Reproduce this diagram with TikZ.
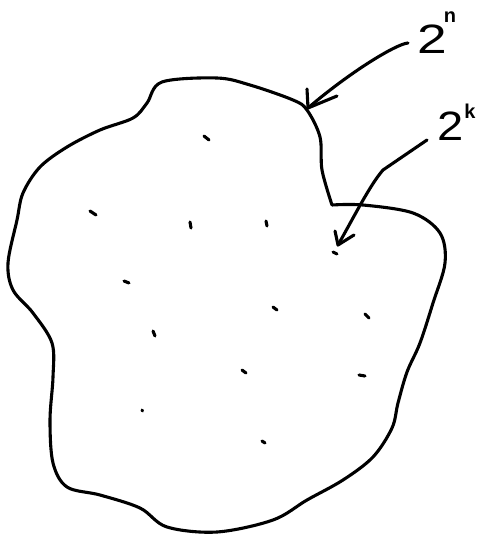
\documentclass[tikz,border=0pt]{standalone}
\usepackage{fontspec}
\setmainfont{Liberation Sans}
\begin{document}
\begin{tikzpicture}[x=1pt,y=-1pt,
  ink/.style={line width=3.1pt,line cap=round,line join=round},
  speck/.style={line width=3.1pt,line cap=round},
  lbl/.style={inner sep=0pt,anchor=base west}]
\useasboundingbox (0,0) rectangle (480,535);
% blob outline
\draw[ink] plot[smooth,tension=0.55] coordinates {
 (332,205) (363,205) (413,213) (440,233) (445,263) (433,303) (420,343)
 (407,372) (398,403) (392,428) (373,457) (343,480) (307,500) (273,520)
 (217,532) (167,527) (140,508) (100,495) (67,487) (53,463) (50,420)
 (53,377) (52,343) (33,313) (13,290) (8,263) (17,220) (23,193) (40,167)
 (67,147) (100,130) (133,118) (147,103) (162,82) (217,78) (250,85)
 (293,100) (307,110) (320,137) (322,170) (332,205)};
% specks
\draw[speck] (204,136) -- (209,140);
\draw[speck] (90,211) -- (96,215);
\draw[speck] (190,222) -- (191,228);
\draw[speck] (266,221) -- (267,226);
\draw[speck] (333,252) -- (337,254);
\draw[speck] (124,281) -- (129,283);
\draw[speck] (273,307) -- (277,310);
\draw[speck] (365,314) -- (369,318);
\draw[speck] (153,331) -- (155,336);
\draw[speck] (242,370) -- (246,373);
\draw[speck] (359,375) -- (365,376);
\draw[speck] (142,410) -- (142.5,411);
\draw[speck] (262,441) -- (265,443);
% labels
\node[lbl] (ln) at (417,53) {\fontsize{41}{41}\selectfont\scalebox{1.3}[1]{2}\kern-3pt\raisebox{31pt}{\fontsize{20}{20}\selectfont\bfseries n}};
\node[lbl] (lk) at (437,140) {\fontsize{41}{41}\selectfont\scalebox{1.15}[1]{2}\kern1pt\raisebox{22pt}{\fontsize{20}{20}\selectfont\bfseries k}};
% arrow to the outline
\coordinate (sn) at (408,43);
\coordinate (tn) at (308,108);
\coordinate (bn1) at (337,96);
\coordinate (bn2) at (307,89);
\draw[ink] (sn) .. controls (396,44) and (350,72) .. (tn);
\draw[ink] (bn1) -- (tn) -- (bn2);
% arrow to the speck
\coordinate (sk) at (427,140);
\coordinate (mk) at (383,170);
\coordinate (tk) at (338,245);
\coordinate (bk1) at (354,235);
\coordinate (bk2) at (335,231);
\draw[ink] (sk) -- (mk) .. controls (370,185) and (355,215) .. (tk);
\draw[ink] (bk1) -- (tk) -- (bk2);
\end{tikzpicture}
\end{document}
